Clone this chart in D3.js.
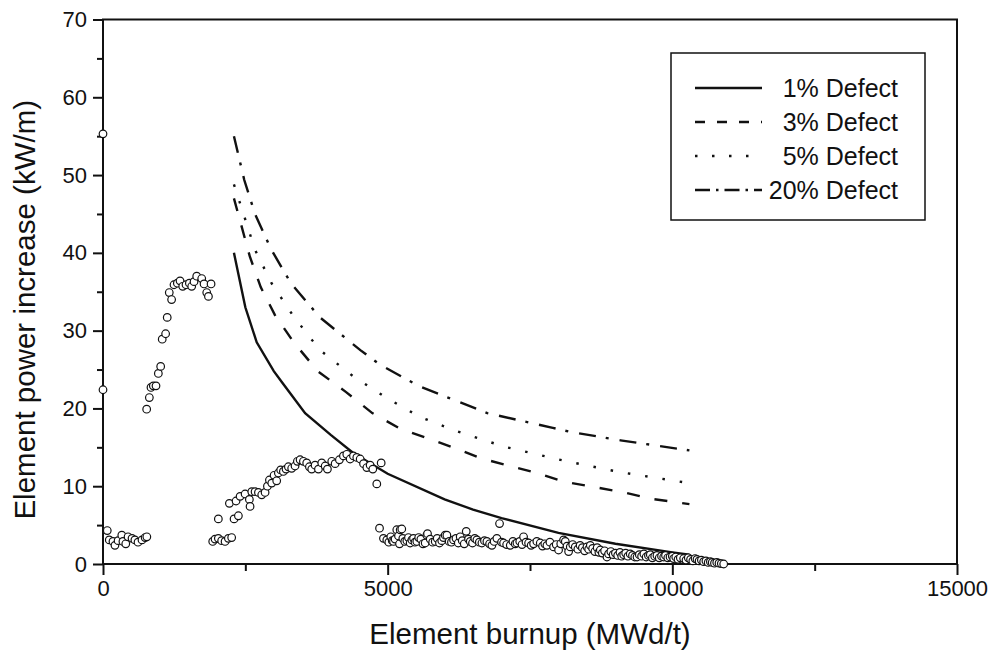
<!DOCTYPE html>
<meta charset="utf-8">
<script src="https://d3js.org/d3.v7.min.js"></script>
<style>
  body { margin: 0; background: #fff; }
  text { font-family: "Liberation Sans", Arial, sans-serif; fill: #111; }
</style>
<div id="chart"></div>
<script>
// model curves: [burnup, power increase]
const defect1 = [[2300,40],[2500,33],[2700,28.5],[3000,24.8],[3150,23.3],[3550,19.4],[4000,16.6],[4390,14.3],
  [5000,11.6],[6000,8.3],[6500,7.0],[7000,5.9],[8000,4.0],[9000,2.6],[10000,1.5],[10300,1.2]];
const defect3 = [[2300,47],[2580,39.5],[2770,35.6],[3020,32],[3350,28.5],[3770,24.8],[4270,22.1],[4730,19.4],
  [5220,17.4],[5730,16.1],[6220,14.8],[6630,13.6],[7620,11.7],[8090,10.6],[9150,9.2],[9610,8.4],[10300,7.7]];
const defect5 = [[2300,48.8],[2670,40.4],[2960,36.1],[3350,31.8],[3810,27.5],[4400,24.1],[4990,21.3],[5570,18.9],
  [6160,17.2],[7040,15.1],[7910,13.6],[8210,13.1],[9090,11.8],[10300,10.4]];
const defect20 = [[2300,55],[2480,49.4],[2670,45],[2950,40.5],[3300,36.1],[3810,31.7],[4520,27.5],[4870,25.6],
  [5570,22.8],[6750,19.4],[7900,17.5],[8200,17.0],[9090,15.9],[10300,14.6]];

// measured points
const measured = [
  [0,55.3],[0,22.4],
  [75,4.3],[110,3.1],[175,2.9],[210,2.4],[265,3.0],[330,3.7],[350,2.9],[400,2.6],[440,3.5],[510,3.3],
  [560,3.1],[615,2.8],[685,3.1],[740,3.4],[770,3.5],
  [767,19.9],[814,21.4],[843,22.7],[884,22.9],[931,22.9],[972,24.5],[1013,25.4],[1040,28.9],[1100,29.6],
  [1128,31.7],[1164,34.9],[1205,34.0],[1247,35.9],[1306,36.1],[1353,36.4],[1400,35.7],[1458,35.9],[1517,36.1],
  [1558,35.7],[1599,36.3],[1646,37.0],[1734,36.7],[1775,36.0],[1822,34.9],[1852,34.4],[1898,36.0],
  [1927,2.9],[1968,3.2],[2026,3.3],[2084,3.0],[2144,2.9],[2202,3.3],[2260,3.4],[2026,5.8],[2302,5.8],[2378,6.2],
  [2220,7.8],[2337,8.1],[2408,8.7],[2496,9.0],[2571,8.3],[2583,7.4],[2613,9.3],[2671,9.3],[2730,9.2],[2788,8.9],
  [2847,9.2],[2888,10.0],[2923,10.8],[2964,10.4],[3005,11.4],[3051,10.7],[3080,11.7],[3121,12.1],[3168,11.9],
  [3215,12.2],[3256,12.5],[3314,12.3],[3373,12.6],[3414,13.2],[3462,13.4],[3520,13.2],[3578,13.0],[3625,12.5],
  [3666,12.2],[3725,12.7],[3784,12.2],[3842,13.0],[3902,12.6],[3942,12.2],[4018,13.2],[4077,12.9],[4152,13.4],
  [4223,13.9],[4282,14.1],[4341,13.5],[4399,13.9],[4458,13.7],[4517,13.5],[4576,12.9],[4634,12.4],[4692,12.7],
  [4739,12.2],[4809,10.3],[4886,13.0],
  [4857,4.6],[4926,3.3],[4985,3.1],[5020,2.8],[5055,3.5],[5080,3.0],[5102,2.9],[5130,3.2],[5160,4.4],[5190,3.6],
  [5208,2.6],[5220,4.4],[5248,4.5],[5266,3.3],[5300,2.9],[5337,3.0],[5365,3.4],[5395,2.7],[5425,3.1],[5454,3.3],
  [5480,2.8],[5512,2.9],[5545,3.4],[5583,3.2],[5620,2.6],[5659,2.7],[5688,3.7],[5700,3.9],[5747,3.2],[5790,2.8],
  [5835,2.9],[5870,3.3],[5910,2.7],[5950,3.0],[5980,3.4],[6010,3.7],[6040,3.7],[6080,2.9],[6120,2.8],[6157,3.1],
  [6200,3.3],[6240,2.7],[6274,3.5],[6310,3.0],[6345,2.6],[6380,4.2],[6420,3.2],[6450,2.9],[6490,2.7],[6530,3.3],
  [6567,3.1],[6610,2.8],[6655,2.7],[6700,3.0],[6743,2.9],[6790,2.6],[6831,2.4],[6870,2.9],[6918,3.3],[6965,5.2],
  [7000,2.8],[7036,2.7],[7090,2.5],[7153,2.4],[7200,2.9],[7240,2.6],[7270,2.7],[7320,2.9],[7360,2.5],[7387,3.5],
  [7430,2.8],[7475,2.7],[7520,2.4],[7563,2.6],[7620,2.9],[7680,2.7],[7720,2.3],[7760,2.6],[7797,2.4],[7850,2.8],
  [7914,2.2],[7960,2.5],[8002,1.8],[8040,2.6],[8090,3.1],[8120,2.9],[8150,2.3],[8178,1.6],[8207,2.2],[8250,2.5],
  [8295,2.2],[8340,1.9],[8380,2.4],[8420,2.1],[8460,1.7],[8500,2.2],[8530,1.9],[8559,2.4],[8600,2.0],[8640,1.6],
  [8680,2.1],[8710,1.5],[8735,1.8],[8770,1.4],[8810,1.7],[8852,0.9],[8880,1.3],[8920,1.6],[8960,1.2],[9000,1.4],
  [9040,1.1],[9080,1.5],[9110,1.0],[9145,1.2],[9180,1.4],[9220,1.0],[9260,1.3],[9300,1.1],[9340,0.9],[9380,0.9],
  [9420,1.2],[9460,1.0],[9500,1.3],[9540,0.9],[9580,1.1],[9613,1.2],[9650,0.8],[9690,1.0],[9730,1.1],[9770,0.8],
  [9810,1.0],[9848,0.9],[9880,1.1],[9920,0.8],[9960,0.9],[10000,1.0],[10023,0.7],[10060,0.9],[10100,0.6],
  [10140,0.8],[10199,0.7],[10240,0.5],[10280,0.8],[10320,0.6],[10360,0.4],[10400,0.7],[10433,0.6],[10470,0.4],
  [10510,0.5],[10550,0.3],[10590,0.4],[10630,0.2],[10668,0.3],[10700,0.2],[10740,0.1],[10780,0.2],[10820,0.1],
  [10860,0.05],[10902,0]
];

const xMajor = [0, 5000, 10000, 15000];
const xMinor = [2500, 7500, 12500];
const yMajor = [0, 10, 20, 30, 40, 50, 60, 70];
const yMinor = [5, 15, 25, 35, 45, 55, 65];

const legendNames = ["1% Defect", "3% Defect", "5% Defect", "20% Defect"];

const W = 996, H = 660;
const svg = d3.select("#chart").append("svg")
  .attr("width", W).attr("height", H);

const x = d3.scaleLinear().domain([0, 15000]).range([103, 957]);
const y = d3.scaleLinear().domain([0, 70]).range([564, 19.5]);

// minor ticks
svg.append("g")
  .attr("transform", `translate(0,${y(0)})`)
  .call(d3.axisBottom(x).tickValues(xMinor).tickSize(7).tickFormat(""))
  .call(g => g.select(".domain").remove());
svg.append("g")
  .attr("transform", `translate(${x(0)},0)`)
  .call(d3.axisLeft(y).tickValues(yMinor).tickSize(6).tickFormat(""))
  .call(g => g.select(".domain").remove());

// major ticks with labels
svg.append("g")
  .attr("transform", `translate(0,${y(0)})`)
  .call(d3.axisBottom(x).tickValues(xMajor).tickSize(11).tickPadding(5).tickFormat(d3.format("d")))
  .call(g => g.select(".domain").remove())
  .call(g => g.selectAll("text").style("font-size", "22px").attr("fill", "#111"));
svg.append("g")
  .attr("transform", `translate(${x(0)},0)`)
  .call(d3.axisLeft(y).tickValues(yMajor).tickSize(10).tickPadding(6))
  .call(g => g.select(".domain").remove())
  .call(g => g.selectAll("text").style("font-size", "22px").attr("fill", "#111"));

svg.selectAll(".tick line").attr("stroke", "#111").attr("stroke-width", 2);

// frame
svg.append("rect")
  .attr("x", x(0)).attr("y", y(70))
  .attr("width", x(15000) - x(0)).attr("height", y(0) - y(70))
  .attr("fill", "none").attr("stroke", "#111").attr("stroke-width", 2);

// axis titles
svg.append("text")
  .attr("x", (x(0) + x(15000)) / 2).attr("y", 644)
  .attr("text-anchor", "middle").style("font-size", "29.5px")
  .text("Element burnup (MWd/t)");
svg.append("text")
  .attr("transform", `translate(35,${(y(0) + y(70)) / 2 + 18}) rotate(-90)`)
  .attr("text-anchor", "middle").style("font-size", "29.5px")
  .text("Element power increase (kW/m)");

const line = d3.line().x(d => x(d[0])).y(d => y(d[1]));

const styles = [
  { data: defect1, dash: null, legDash: null },
  { data: defect3, dash: "13,15", legDash: "10,12" },
  { data: defect5, dash: "2.5,15", legDash: "2.5,14.5" },
  { data: defect20, dash: "17,10,3,11", legDash: "15,6,2.5,6" }
];

styles.forEach(s => {
  svg.append("path")
    .datum(s.data)
    .attr("fill", "none")
    .attr("stroke", "#111")
    .attr("stroke-width", 2.4)
    .attr("stroke-dasharray", s.dash)
    .attr("d", line);
});

// measured points
svg.append("g")
  .selectAll("circle")
  .data(measured)
  .join("circle")
    .attr("cx", d => x(d[0]))
    .attr("cy", d => y(d[1]))
    .attr("r", 3.8)
    .attr("fill", "#fff")
    .attr("stroke", "#111")
    .attr("stroke-width", 1.2);

// legend
const leg = svg.append("g");
leg.append("rect")
  .attr("x", 671).attr("y", 53).attr("width", 254).attr("height", 167)
  .attr("fill", "#fff").attr("stroke", "#111").attr("stroke-width", 1.5);
legendNames.forEach((name, i) => {
  const yy = 88 + i * 34;
  leg.append("line")
    .attr("x1", 695).attr("x2", 762).attr("y1", yy).attr("y2", yy)
    .attr("stroke", "#111").attr("stroke-width", 2.4)
    .attr("stroke-dasharray", styles[i].legDash);
  leg.append("text")
    .attr("x", 898).attr("y", yy).attr("dy", "0.36em")
    .attr("text-anchor", "end").style("font-size", "25px")
    .text(name);
});
</script>
